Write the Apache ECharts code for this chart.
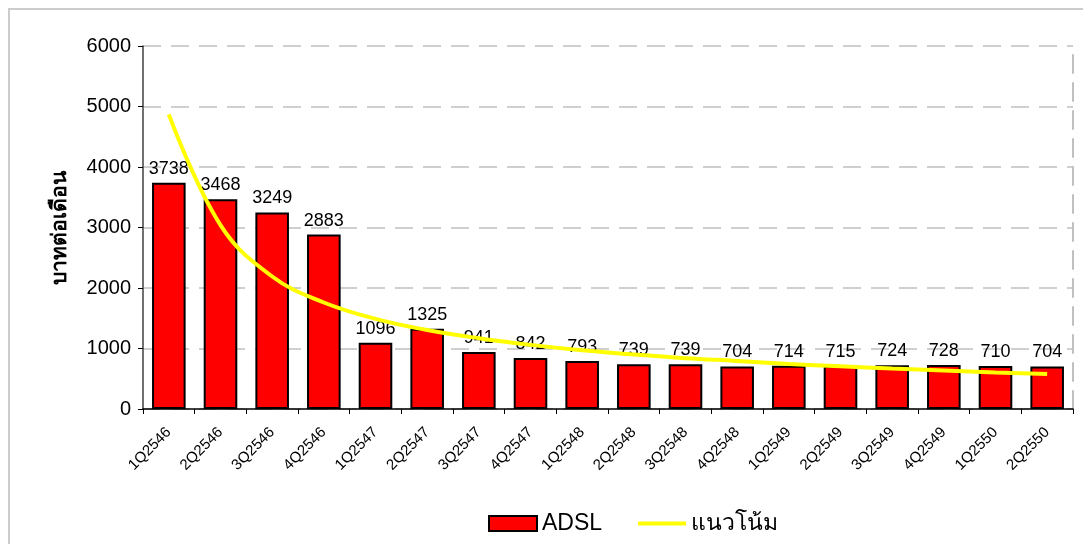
<!DOCTYPE html>
<html lang="th">
<head>
	<meta charset="UTF-8">
	<title>ADSL</title>
	<script src="https://cdn.jsdelivr.net/npm/echarts@6/dist/echarts.min.js"></script>
	<style>
		* {
			margin: 0;
			padding: 0;
		}
		body {
			background: #fff;
		}
		#container {
			width: 1083px;
			height: 544px;
		}
	</style>
</head>
<body>
<div id="container"></div>
<script type="text/javascript">
	// ไตรมาส
	var quarters = ['1Q2546', '2Q2546', '3Q2546', '4Q2546', '1Q2547', '2Q2547', '3Q2547', '4Q2547', '1Q2548',
		'2Q2548', '3Q2548', '4Q2548', '1Q2549', '2Q2549', '3Q2549', '4Q2549', '1Q2550', '2Q2550'];
	// ราคา ADSL (บาทต่อเดือน)
	var adsl = [3738, 3468, 3249, 2883, 1096, 1325, 941, 842, 793, 739, 739, 704, 714, 715, 724, 728, 710, 704];
	// แนวโน้ม
	var trend = [4870, 3040, 2190, 1760, 1490, 1305, 1170, 1060, 970, 900, 840, 795, 745, 705, 668, 635, 605, 580];
	var yTicks = [0, 1000, 2000, 3000, 4000, 5000, 6000];

	var font = 'Arial, "Liberation Sans", sans-serif';

	var myChart = echarts.init(document.getElementById('container'));

	var option = {
		animation: false,
		backgroundColor: '#fff',
		textStyle: {fontFamily: font},
		graphic: [{
			type: 'rect',
			shape: {x: 9, y: 9, width: 1200, height: 700},
			style: {fill: null, stroke: '#cccccc', lineWidth: 2},
			silent: true
		}],
		grid: {
			left: 143,
			right: 10,
			top: 46,
			bottom: 135
		},
		legend: {
			left: 483,
			top: 507,
			itemWidth: 48,
			itemHeight: 15,
			itemGap: 36,
			textStyle: {fontSize: 23, color: '#000', fontFamily: font},
			data: [
				{name: 'ADSL', icon: 'rect', itemStyle: {borderColor: '#000', borderWidth: 2}},
				{
					name: 'แนวโน้ม',
					// thin bar in the middle of the icon box
					icon: 'path://M0,0 L0,0 M0,5.5 L50,5.5 L50,9.5 L0,9.5 Z M50,15 L50,15',
					itemStyle: {borderWidth: 0}
				}
			]
		},
		xAxis: {
			type: 'category',
			data: quarters,
			axisLine: {lineStyle: {color: '#000', width: 1.5}},
			axisTick: {show: true, length: 5, lineStyle: {color: '#000'}},
			axisLabel: {
				rotate: 45,
				interval: 0,
				fontSize: 15,
				color: '#000',
				margin: 21
			}
		},
		yAxis: [{
			type: 'value',
			min: yTicks[0],
			max: yTicks[yTicks.length - 1],
			interval: 1000,
			name: 'บาทต่อเดือน',
			nameLocation: 'middle',
			nameRotate: 90,
			nameGap: 72,
			nameTextStyle: {fontSize: 21, fontWeight: 'bold', color: '#000'},
			axisLine: {show: true, lineStyle: {color: '#404040', width: 1.5}},
			axisTick: {show: true, length: 5, lineStyle: {color: '#000'}},
			axisLabel: {
				fontSize: 20,
				color: '#000',
				margin: 12,
				formatter: function (v) {
					return String(v);
				}
			},
			splitLine: {
				show: true,
				lineStyle: {color: '#c0c0c0', width: 1.5, type: [18, 10]}
			}
		}, {
			type: 'value',
			position: 'right',
			min: yTicks[0],
			max: yTicks[yTicks.length - 1],
			interval: 1000,
			axisLine: {show: true, lineStyle: {color: '#c0c0c0', width: 2, type: [18, 10]}},
			axisTick: {show: false},
			axisLabel: {show: false},
			splitLine: {show: false}
		}],
		series: [
			{
				name: 'ADSL',
				type: 'bar',
				data: adsl,
				barWidth: '65%',
				itemStyle: {color: '#ff0000', borderColor: '#000', borderWidth: 2},
				label: {
					show: true,
					position: 'top',
					distance: 5,
					fontSize: 18,
					color: '#000'
				}
			},
			{
				name: 'แนวโน้ม',
				type: 'line',
				data: trend,
				smooth: 0.4,
				symbol: 'none',
				z: 5,
				lineStyle: {color: '#ffff00', width: 4},
				itemStyle: {color: '#ffff00'}
			}
		]
	};

	myChart.setOption(option);
</script>
</body>
</html>
